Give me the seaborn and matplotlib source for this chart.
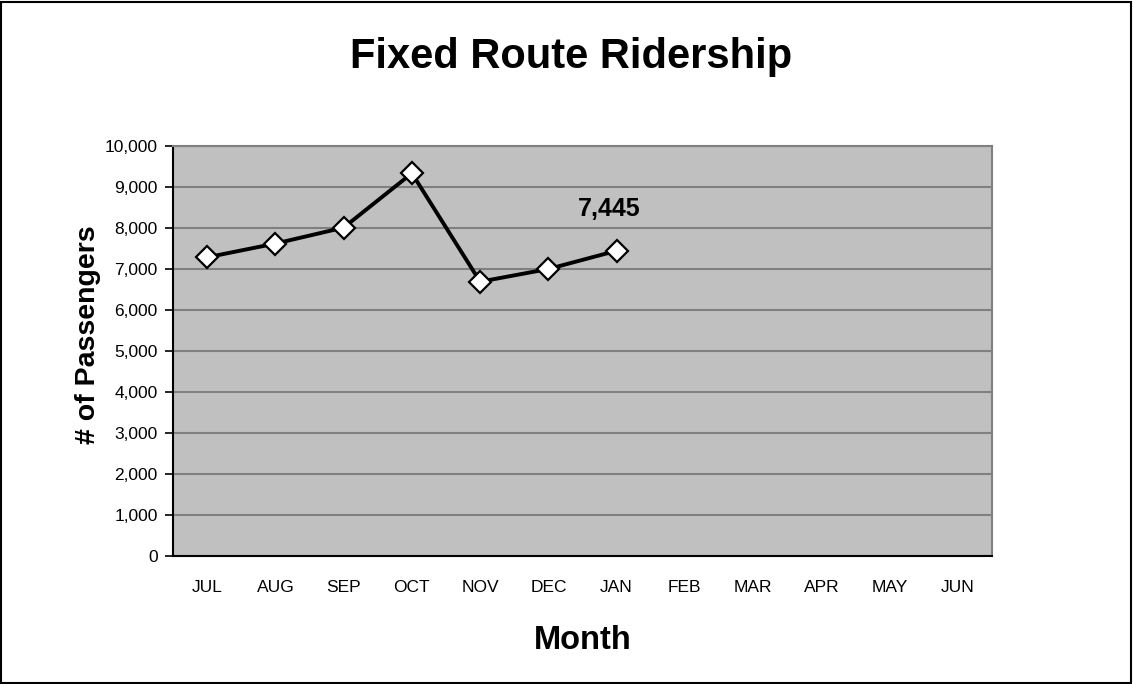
import numpy as np
import pandas as pd
import matplotlib
matplotlib.use("Agg")
import matplotlib.pyplot as plt
import seaborn as sns
from matplotlib import font_manager
from matplotlib.patches import Rectangle
from matplotlib.ticker import FuncFormatter, MultipleLocator

# data
months = ["JUL", "AUG", "SEP", "OCT", "NOV", "DEC", "JAN", "FEB", "MAR", "APR", "MAY", "JUN"]
riders = [7285, 7620, 8010, 9335, 6690, 7000, 7445]
last_label = "7,445"

df = pd.DataFrame({"pos": np.arange(len(riders)), "riders": riders})

sns.set_style("white")
plt.rcParams["font.family"] = ["Liberation Sans", "DejaVu Sans"]
for k in ["text.color", "axes.labelcolor", "xtick.color", "ytick.color"]:
    plt.rcParams[k] = "black"

# tick labels in the original are squeezed, use the narrow face if it is there
names = {f.name for f in font_manager.fontManager.ttflist}
narrow = "Liberation Sans Narrow" if "Liberation Sans Narrow" in names else "Liberation Sans"
tick_size = 15 if narrow == "Liberation Sans Narrow" else 12.5

fig = plt.figure(figsize=(11.33, 6.84), dpi=100)
ax = fig.add_axes([173 / 1133, 1 - 556 / 684, (992 - 173) / 1133, (556 - 146) / 684])
ax.set_facecolor("#c0c0c0")

sns.lineplot(data=df, x="pos", y="riders", ax=ax, color="black", linewidth=2.8,
             marker="D", markersize=11.5, markerfacecolor="white",
             markeredgecolor="black", markeredgewidth=1.6, zorder=5)

ax.annotate(last_label, (df["pos"].iloc[-1], df["riders"].iloc[-1]),
            xytext=(-5, 25), textcoords="offset points", ha="center", va="baseline",
            fontsize=18, fontweight="bold")

# axes
ax.set_xlim(-0.5, len(months) - 0.5)
ax.set_ylim(0, 10000)
ax.yaxis.set_major_locator(MultipleLocator(1000))
ax.yaxis.set_major_formatter(FuncFormatter(lambda v, p: f"{int(v):,}"))
ax.set_xticks(range(len(months)))
ax.set_xticklabels(months, fontfamily=narrow, fontsize=tick_size)
ax.set_xticks(np.arange(-0.5, len(months), 1), minor=True)
ax.tick_params(axis="x", which="major", length=0, pad=17)
ax.tick_params(axis="x", which="minor", length=6, width=1.2, color="black", direction="out")
ax.tick_params(axis="y", which="major", length=6, width=1.2, color="black", direction="out",
               left=True, pad=5)
for t in ax.get_yticklabels():
    t.set_fontfamily(narrow)
    t.set_fontsize(tick_size)
ax.grid(axis="y", color="#808080", linewidth=1.5)
ax.set_axisbelow(True)

for s in ["top", "right"]:
    ax.spines[s].set_color("#808080")
    ax.spines[s].set_linewidth(1.5)
for s in ["left", "bottom"]:
    ax.spines[s].set_color("black")
    ax.spines[s].set_linewidth(1.5)

ax.set_xlabel("")
ax.set_ylabel("")
fig.text(583 / 1133, 1 - 649 / 684, "Month", fontsize=23.5, fontweight="bold",
         ha="center", va="baseline")
fig.text(88 / 1133, 1 - 335 / 684, "# of Passengers", fontsize=20.5, fontweight="bold",
         ha="center", va="center", rotation=90)
fig.text(571 / 1133, 1 - 68 / 684, "Fixed Route Ridership", fontsize=30, fontweight="bold",
         ha="center", va="baseline")

# border round the whole chart
fig.patches.append(Rectangle((0.001, 0.002), 0.997, 0.995, transform=fig.transFigure,
                             fill=False, edgecolor="black", linewidth=1.5))

fig.savefig("out.png", dpi=100)
